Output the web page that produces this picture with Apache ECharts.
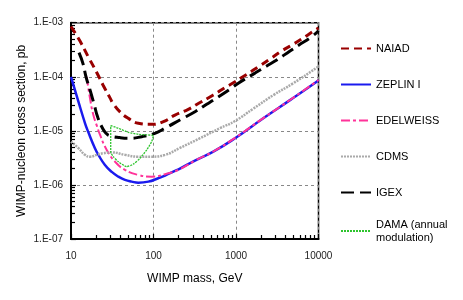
<!DOCTYPE html>
<html>
<head>
<meta charset="utf-8">
<script src="https://cdn.jsdelivr.net/npm/echarts@6/dist/echarts.min.js"></script>
<style>html,body{margin:0;padding:0;background:#fff}#c{width:463px;height:300px}</style>
</head>
<body>
<div id="c"></div>
<script>
// ---- data (WIMP mass in GeV, cross section in pb) ----
const xTickLabels = ['10', '100', '1000', '10000'];
const yTickLabels = ['1.E-07', '1.E-06', '1.E-05', '1.E-04', '1.E-03'];
const seriesNames = ['NAIAD', 'ZEPLIN I', 'EDELWEISS', 'CDMS', 'IGEX', 'DAMA (annual\nmodulation)'];

const naiadMass = [10, 12.85, 16.2, 20.5, 24.6, 29.7, 32.6, 39.3, 49.6, 65.5, 95, 132, 182, 264, 349, 531, 736, 973, 1349, 1950, 2580, 3580, 4950, 6860, 9080, 10000];
const naiadSigma = [8.5e-4, 4.57e-4, 2.34e-4, 1.2e-4, 6.9e-5, 4.07e-5, 3.16e-5, 2.24e-5, 1.7e-5, 1.38e-5, 1.32e-5, 1.48e-5, 1.95e-5, 2.5e-5, 3.2e-5, 4.6e-5, 6.3e-5, 8.1e-5, 1.11e-4, 1.6e-4, 2.13e-4, 3.0e-4, 4.0e-4, 5.5e-4, 7.3e-4, 7.9e-4];

const zeplinMass = [10, 12.3, 14.8, 16.2, 19.5, 21.4, 25.8, 31.2, 37.5, 45.1, 54.4, 65.5, 86.6, 114, 138, 182, 209, 318, 531, 973, 2142, 4515, 9500, 10000];
const zeplinSigma = [1.0e-4, 3.47e-5, 1.38e-5, 9.5e-6, 4.76e-6, 3.63e-6, 2.34e-6, 1.74e-6, 1.42e-6, 1.24e-6, 1.15e-6, 1.10e-6, 1.15e-6, 1.33e-6, 1.49e-6, 1.82e-6, 2.0e-6, 2.82e-6, 4.12e-6, 7.3e-6, 1.71e-5, 3.7e-5, 8.1e-5, 8.7e-5];

const edelMass = [15.5, 17, 18.6, 20.5, 22.5, 27.1, 34.1, 45.1, 65.5, 95, 138, 200, 318, 531, 973, 2142, 4515, 10000];
const edelSigma = [1.0e-4, 4.0e-5, 2.0e-5, 1.26e-5, 8.4e-6, 4.44e-6, 2.7e-6, 1.9e-6, 1.53e-6, 1.42e-6, 1.58e-6, 1.9e-6, 2.82e-6, 4.15e-6, 7.4e-6, 1.72e-5, 3.72e-5, 8.7e-5];

const cdmsMass = [10, 12.3, 14.8, 17, 20.5, 24.6, 31.2, 45.1, 65.5, 95, 138, 209, 366, 640, 973, 1622, 2830, 4950, 9500, 10000];
const cdmsSigma = [6.3e-6, 4.8e-6, 3.6e-6, 3.33e-6, 3.6e-6, 3.85e-6, 4.0e-6, 3.6e-6, 3.33e-6, 3.33e-6, 3.6e-6, 4.83e-6, 7.3e-6, 1.12e-5, 1.52e-5, 2.57e-5, 4.57e-5, 7.6e-5, 1.47e-4, 1.58e-4];

const igexMass = [12.5, 14.0, 15.2, 17.0, 19.0, 21.2, 24.4, 26.5, 29.7, 39.2, 51.9, 72, 104, 138, 220, 318, 441, 531, 845, 1067, 1700, 2355, 3113, 4515, 5690, 8280, 10000];
const igexSigma = [2.79e-4, 1.73e-4, 1.0e-4, 5.7e-5, 3.16e-5, 1.74e-5, 1.08e-5, 9.1e-6, 8.1e-6, 7.5e-6, 7.3e-6, 7.8e-6, 9.0e-6, 1.12e-5, 1.66e-5, 2.26e-5, 3.1e-5, 3.7e-5, 5.9e-5, 7.6e-5, 1.17e-4, 1.58e-4, 2.04e-4, 3.0e-4, 3.8e-4, 5.5e-4, 7.1e-4];

const damaMass = [30.3, 37.4, 49.6, 65.5, 82.7, 99.5, 95, 82.7, 68.5, 56.9, 47.3, 37.4, 32.6, 30.3, 30.3];
const damaSigma = [1.25e-5, 1.12e-5, 9.4e-6, 8.65e-6, 8.4e-6, 8.15e-6, 6.3e-6, 4.44e-6, 3.11e-6, 2.42e-6, 2.18e-6, 2.7e-6, 3.33e-6, 4.12e-6, 1.25e-5];

// ---- helpers ----
function pairs(xs, ys) { return xs.map((x, i) => [x, ys[i]]); }
// minor tick positions (log10 space, used on helper value axes spanning the same decades)
const minorX = [];
for (let e = 1; e < 4; e++) for (let k = 2; k <= 9; k++) minorX.push(e + Math.log10(k));
const minorY = [];
for (let e = -7; e < -3; e++) for (let k = 2; k <= 9; k++) minorY.push(e + Math.log10(k));

const FONT = 'Liberation Sans, Arial, sans-serif';

const chart = echarts.init(document.getElementById('c'), null, { renderer: 'canvas' });
const styles = [
  { color: '#990000', width: 3, type: [8, 5] },
  { color: '#1a1aee', width: 2.5, type: 'solid' },
  { color: '#ff3399', width: 2, type: [9, 3, 3, 3] },
  { color: '#aaaaaa', width: 2.5, type: [2, 1] },
  { color: '#000000', width: 3, type: [13, 6] },
  { color: '#2ec42e', width: 1.3, type: [2, 1] }
];
const datasets = [
  pairs(naiadMass, naiadSigma),
  pairs(zeplinMass, zeplinSigma),
  pairs(edelMass, edelSigma),
  pairs(cdmsMass, cdmsSigma),
  pairs(igexMass, igexSigma),
  pairs(damaMass, damaSigma)
];

const gridLine = { show: true, lineStyle: { color: '#888', type: [3, 3], width: 1 } };
const tickStyle = { color: '#000', width: 1.2 };
const legendCommon = {
  orient: 'vertical', left: 335,
  itemWidth: 30, itemHeight: 14, itemGap: 23, itemTextGap: 3,
  itemStyle: { color: 'rgba(0,0,0,0)', borderWidth: 0, opacity: 0 },
  textStyle: { fontFamily: FONT, fontSize: 11, color: '#000', lineHeight: 13 }
};

chart.setOption({
  animation: false,
  grid: { left: 71, right: 144.5, top: 22.7, bottom: 61, show: true, borderColor: '#000', borderWidth: 1.5, backgroundColor: 'transparent' },
  legend: [
    Object.assign({}, legendCommon, { top: 37, data: seriesNames.slice(0, 5) }),
    Object.assign({}, legendCommon, { top: 206.5, data: [{ name: seriesNames[5], textStyle: { padding: [13, 0, 0, 0] } }] })
  ],
  xAxis: [{
    type: 'log', logBase: 10, min: 10, max: 10000, position: 'bottom',
    name: 'WIMP mass, GeV', nameLocation: 'middle', nameGap: 34, nameMoveOverlap: false,
    nameTextStyle: { fontFamily: FONT, fontSize: 12, color: '#000' },
    axisLine: { onZero: false, lineStyle: { color: '#000', width: 2 } },
    axisTick: { inside: true, length: 5, lineStyle: tickStyle },
    axisLabel: { fontFamily: FONT, fontSize: 10, color: '#222', margin: 12,
      formatter: v => xTickLabels[Math.round(Math.log10(v)) - 1] },
    splitLine: gridLine
  }, {
    type: 'value', min: 1, max: 4, position: 'bottom',
    axisLine: { show: false },
    axisTick: { inside: true, length: 4, lineStyle: tickStyle, customValues: minorX },
    axisLabel: { show: false },
    splitLine: { show: false }
  }],
  yAxis: [{
    type: 'log', logBase: 10, min: 1e-7, max: 1e-3, position: 'left',
    name: 'WIMP-nucleon cross section, pb', nameLocation: 'middle', nameGap: 43, nameMoveOverlap: false,
    nameTextStyle: { fontFamily: FONT, fontSize: 12, color: '#000' },
    axisLine: { onZero: false, lineStyle: { color: '#000', width: 2 } },
    axisTick: { inside: true, length: 5, lineStyle: tickStyle },
    axisLabel: { fontFamily: FONT, fontSize: 10, color: '#222', margin: 8,
      formatter: v => yTickLabels[Math.round(Math.log10(v)) + 7] },
    splitLine: gridLine
  }, {
    type: 'value', min: -7, max: -3, position: 'left',
    axisLine: { show: false },
    axisTick: { inside: true, length: 4, lineStyle: tickStyle, customValues: minorY },
    axisLabel: { show: false },
    splitLine: { show: false }
  }],
  series: seriesNames.map((n, i) => ({
    name: n, type: 'line', data: datasets[i], symbol: 'none', smooth: i === 5 ? 0.2 : 0.5,
    xAxisIndex: 0, yAxisIndex: 0,
    color: styles[i].color,
    lineStyle: { color: styles[i].color, width: styles[i].width, type: styles[i].type },
    clip: true
  }))
});
</script>
</body>
</html>
